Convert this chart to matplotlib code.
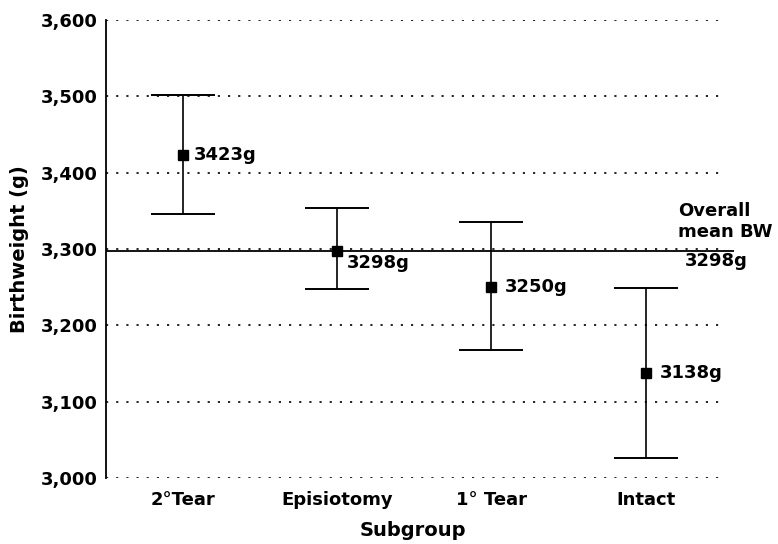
import matplotlib.pyplot as plt
import numpy as np

# birthweight by perineal outcome, means with upper/lower limits
groups = ['2\u00b0Tear', 'Episiotomy', '1\u00b0 Tear', 'Intact']
means = [3423, 3298, 3250, 3138]
upper = [3502, 3354, 3335, 3249]
lower = [3346, 3248, 3168, 3026]
overall = 3298
yticks = [3000, 3100, 3200, 3300, 3400, 3500, 3600]

plt.rcParams['font.family'] = 'DejaVu Sans'
plt.rcParams['font.weight'] = 'bold'

fig = plt.figure(figsize=(7.78, 5.44), dpi=100)
ax = fig.add_axes([0.136, 0.121, 0.789, 0.842])

x = np.arange(len(groups))
means = np.array(means)
yerr = [means - np.array(lower), np.array(upper) - means]

# dotted gridlines at each tick
for yt in yticks:
    ax.axhline(yt, color='black', lw=1.2, linestyle=(0, (1.3, 4.8)), zorder=1)

ax.hlines(overall, -0.5, 3.57, color='black', lw=1.3, clip_on=False, zorder=2)

ax.errorbar(x, means, yerr=yerr, fmt='s', color='black', ms=6.5,
            elinewidth=1.2, capsize=23, capthick=1.4, zorder=3)

offsets = [(8, 0), (7, -9), (10, 0), (10, 0)]
for xi, m, off in zip(x, means, offsets):
    ax.annotate(f'{m}g', (xi, m), xytext=off, textcoords='offset points',
                ha='left', va='center', fontsize=13, fontweight='bold')

ax.text(3.21, 3336, 'Overall\nmean BW', ha='left', va='center',
        fontsize=13, fontweight='bold', linespacing=1.2)
ax.text(3.255, 3285, f'{overall}g', ha='left', va='center',
        fontsize=13, fontweight='bold')

ax.set_xlim(-0.5, 3.48)
ax.set_ylim(3000, 3600)
ax.set_yticks(yticks)
ax.set_yticklabels([f'{v:,}' for v in yticks])
ax.set_xticks(x)
ax.set_xticklabels(groups)
ax.tick_params(axis='y', length=0, labelsize=13, pad=6)
ax.tick_params(axis='x', length=0, labelsize=13, pad=9)
for lab in ax.get_xticklabels() + ax.get_yticklabels():
    lab.set_fontweight('bold')

for s in ['top', 'right', 'bottom']:
    ax.spines[s].set_visible(False)
ax.spines['left'].set_linewidth(1.3)

ax.set_xlabel('Subgroup', fontsize=14, fontweight='bold', labelpad=9)
ax.set_ylabel('Birthweight (g)', fontsize=14, fontweight='bold', labelpad=8)

fig.savefig('out.png', dpi=100)
